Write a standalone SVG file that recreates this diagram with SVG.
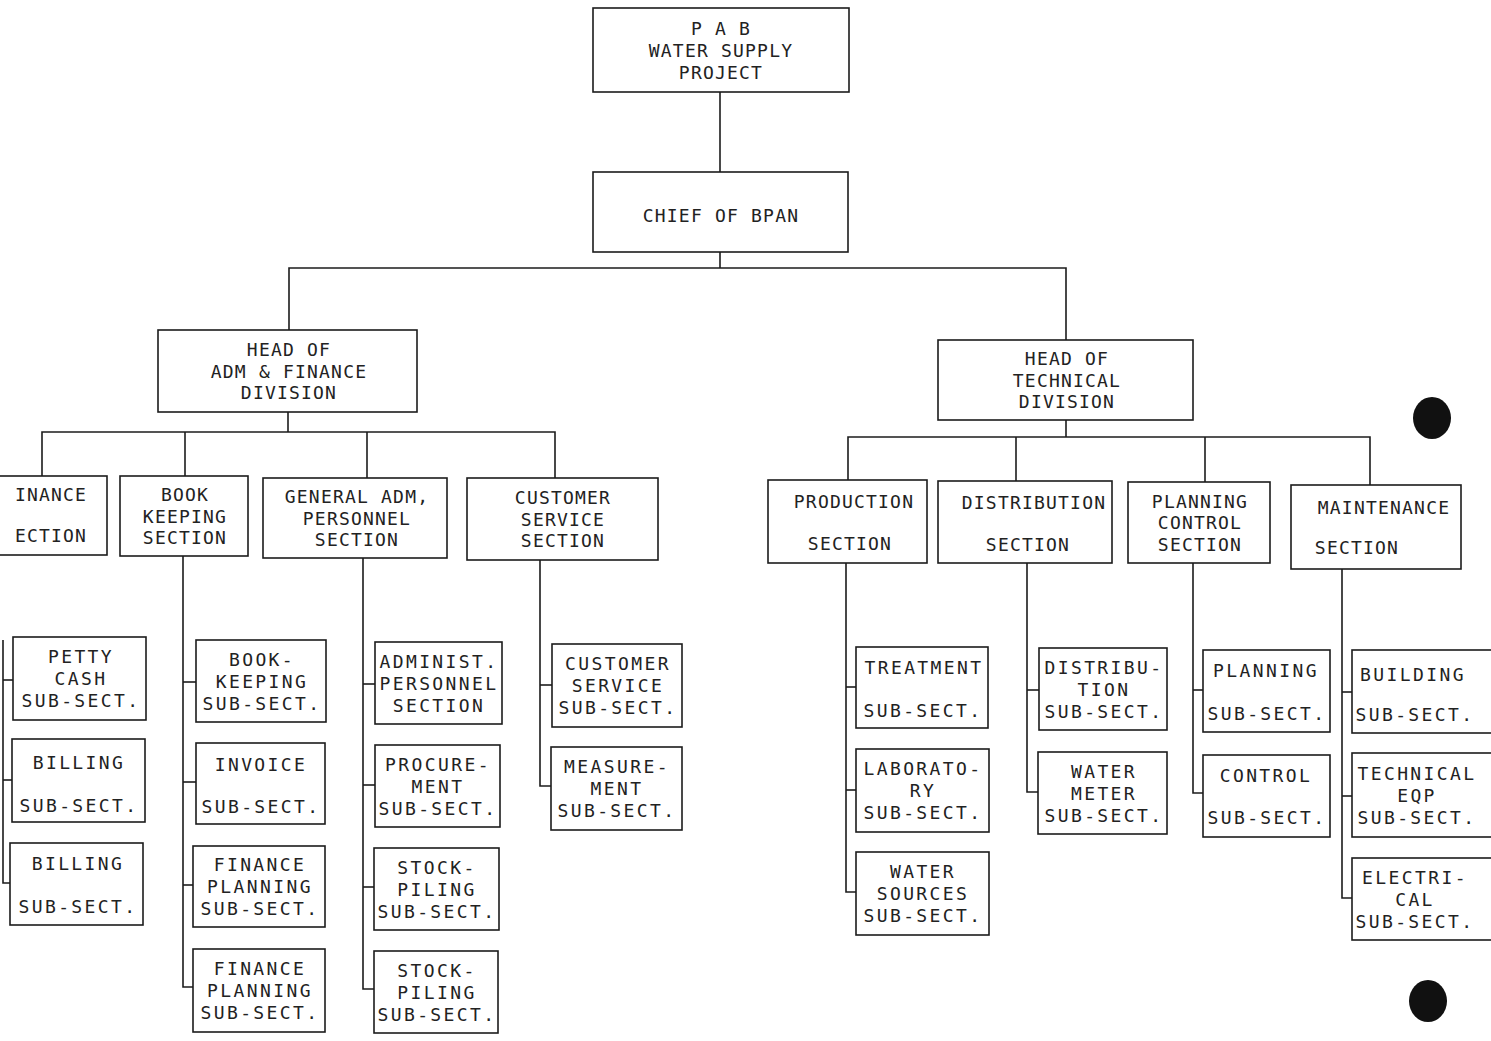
<svg xmlns="http://www.w3.org/2000/svg" width="1491" height="1041" viewBox="0 0 1491 1041">
<style>
.bg{fill:#ffffff}
.box{fill:#ffffff;stroke:#1c1c1c;stroke-width:1.6}
.ln{fill:none;stroke:#1c1c1c;stroke-width:1.6}
.t{font-family:"DejaVu Sans Mono","Liberation Mono",monospace;font-size:18px;letter-spacing:1.2px;text-anchor:middle;fill:#222}
.s{letter-spacing:2.4px}
.dot{fill:#111}
</style>
<rect class="bg" x="0" y="0" width="1491" height="1041"/>

<g id="connectors">
<line class="ln" x1="720" y1="92" x2="720" y2="172"/>
<line class="ln" x1="720" y1="252" x2="720" y2="268"/>
<polyline class="ln" points="289,330 289,268 1066,268 1066,340"/>
<line class="ln" x1="288" y1="412" x2="288" y2="432"/>
<polyline class="ln" points="42,476 42,432 555,432 555,478"/>
<line class="ln" x1="185" y1="432" x2="185" y2="476"/>
<line class="ln" x1="367" y1="432" x2="367" y2="478"/>
<line class="ln" x1="1066" y1="420" x2="1066" y2="437"/>
<polyline class="ln" points="848,480 848,437 1370,437 1370,485"/>
<line class="ln" x1="1016" y1="437" x2="1016" y2="481"/>
<line class="ln" x1="1205" y1="437" x2="1205" y2="482"/>
<polyline class="ln" points="3,640 3,883 12,883"/>
<line class="ln" x1="3" y1="680" x2="13" y2="680"/>
<line class="ln" x1="3" y1="780" x2="12" y2="780"/>
<polyline class="ln" points="183,556 183,987 193,987"/>
<line class="ln" x1="183" y1="682" x2="196" y2="682"/>
<line class="ln" x1="183" y1="782" x2="196" y2="782"/>
<line class="ln" x1="183" y1="885" x2="193" y2="885"/>
<polyline class="ln" points="363,558 363,989 374,989"/>
<line class="ln" x1="363" y1="684" x2="375" y2="684"/>
<line class="ln" x1="363" y1="785" x2="375" y2="785"/>
<line class="ln" x1="363" y1="887" x2="374" y2="887"/>
<polyline class="ln" points="540,560 540,786 551,786"/>
<line class="ln" x1="540" y1="685" x2="552" y2="685"/>
<polyline class="ln" points="846,563 846,892 856,892"/>
<line class="ln" x1="846" y1="687" x2="856" y2="687"/>
<line class="ln" x1="846" y1="790" x2="856" y2="790"/>
<polyline class="ln" points="1027,563 1027,792 1038,792"/>
<line class="ln" x1="1027" y1="690" x2="1039" y2="690"/>
<polyline class="ln" points="1193,563 1193,793 1203,793"/>
<line class="ln" x1="1193" y1="690" x2="1203" y2="690"/>
<polyline class="ln" points="1342,569 1342,898 1352,898"/>
<line class="ln" x1="1342" y1="692" x2="1352" y2="692"/>
<line class="ln" x1="1342" y1="796" x2="1352" y2="796"/>
</g>

<g id="pab">
<rect class="box" x="593" y="8" width="256" height="84"/>
<text class="t" x="721" y="34.5">P A B</text>
<text class="t" x="721" y="56.5">WATER SUPPLY</text>
<text class="t" x="721" y="78.5">PROJECT</text>
</g>
<g id="chief">
<rect class="box" x="593" y="172" width="255" height="80"/>
<text class="t" x="721" y="221.5">CHIEF OF BPAN</text>
</g>

<g id="head-adm">
<rect class="box" x="158" y="330" width="259" height="82"/>
<text class="t" x="289" y="356">HEAD OF</text>
<text class="t" x="289" y="377.5">ADM &amp; FINANCE</text>
<text class="t" x="289" y="399">DIVISION</text>
</g>
<g id="head-tech">
<rect class="box" x="938" y="340" width="255" height="80"/>
<text class="t" x="1067" y="365">HEAD OF</text>
<text class="t" x="1067" y="386.5">TECHNICAL</text>
<text class="t" x="1067" y="408">DIVISION</text>
</g>

<g id="finance-section">
<rect class="box" x="-20" y="476" width="127" height="79"/>
<text class="t" x="51" y="500.5">INANCE</text>
<text class="t" x="51" y="541.5">ECTION</text>
</g>
<g id="bookkeeping-section">
<rect class="box" x="120" y="476" width="128" height="80"/>
<text class="t" x="185" y="501">BOOK</text>
<text class="t" x="185" y="522.5">KEEPING</text>
<text class="t" x="185" y="544">SECTION</text>
</g>
<g id="general-section">
<rect class="box" x="263" y="478" width="184" height="80"/>
<text class="t" x="357" y="503">GENERAL ADM,</text>
<text class="t" x="357" y="524.5">PERSONNEL</text>
<text class="t" x="357" y="546">SECTION</text>
</g>
<g id="customer-section">
<rect class="box" x="467" y="478" width="191" height="82"/>
<text class="t" x="563" y="504">CUSTOMER</text>
<text class="t" x="563" y="525.5">SERVICE</text>
<text class="t" x="563" y="547">SECTION</text>
</g>

<g id="production-section">
<rect class="box" x="768" y="480" width="159" height="83"/>
<text class="t" x="854" y="507.5">PRODUCTION</text>
<text class="t" x="850" y="549.5">SECTION</text>
</g>
<g id="distribution-section">
<rect class="box" x="938" y="481" width="174" height="82"/>
<text class="t" x="1034" y="508.5">DISTRIBUTION</text>
<text class="t" x="1028" y="550.5">SECTION</text>
</g>
<g id="planning-section">
<rect class="box" x="1128" y="482" width="142" height="81"/>
<text class="t" x="1200" y="507.5">PLANNING</text>
<text class="t" x="1200" y="529">CONTROL</text>
<text class="t" x="1200" y="550.5">SECTION</text>
</g>
<g id="maintenance-section">
<rect class="box" x="1291" y="485" width="170" height="84"/>
<text class="t" x="1384" y="513.5">MAINTENANCE</text>
<text class="t" x="1357" y="553.5">SECTION</text>
</g>

<g id="petty-cash">
<rect class="box" x="13" y="637" width="133" height="83"/>
<text class="t s" x="81" y="663">PETTY</text>
<text class="t s" x="81" y="685">CASH</text>
<text class="t s" x="81" y="707">SUB-SECT.</text>
</g>
<g id="billing-1">
<rect class="box" x="12" y="739" width="133" height="83"/>
<text class="t s" x="79" y="768.5">BILLING</text>
<text class="t s" x="79" y="811.5">SUB-SECT.</text>
</g>
<g id="billing-2">
<rect class="box" x="10" y="843" width="133" height="82"/>
<text class="t s" x="78" y="869.5">BILLING</text>
<text class="t s" x="78" y="912.5">SUB-SECT.</text>
</g>

<g id="bookkeeping-sub">
<rect class="box" x="196" y="640" width="130" height="82"/>
<text class="t s" x="262" y="665.5">BOOK-</text>
<text class="t s" x="262" y="687.5">KEEPING</text>
<text class="t s" x="262" y="709.5">SUB-SECT.</text>
</g>
<g id="invoice-sub">
<rect class="box" x="196" y="743" width="129" height="81"/>
<text class="t s" x="261" y="770.5">INVOICE</text>
<text class="t s" x="261" y="812.5">SUB-SECT.</text>
</g>
<g id="finance-planning-1">
<rect class="box" x="193" y="846" width="132" height="81"/>
<text class="t s" x="260" y="871">FINANCE</text>
<text class="t s" x="260" y="893">PLANNING</text>
<text class="t s" x="260" y="915">SUB-SECT.</text>
</g>
<g id="finance-planning-2">
<rect class="box" x="193" y="949" width="132" height="83"/>
<text class="t s" x="260" y="975">FINANCE</text>
<text class="t s" x="260" y="997">PLANNING</text>
<text class="t s" x="260" y="1019">SUB-SECT.</text>
</g>

<g id="administ-personnel">
<rect class="box" x="375" y="642" width="127" height="82"/>
<text class="t s" x="439" y="667.5">ADMINIST.</text>
<text class="t s" x="439" y="689.5">PERSONNEL</text>
<text class="t s" x="439" y="711.5">SECTION</text>
</g>
<g id="procurement">
<rect class="box" x="375" y="745" width="125" height="82"/>
<text class="t s" x="438" y="770.5">PROCURE-</text>
<text class="t s" x="438" y="792.5">MENT</text>
<text class="t s" x="438" y="814.5">SUB-SECT.</text>
</g>
<g id="stockpiling-1">
<rect class="box" x="374" y="848" width="125" height="82"/>
<text class="t s" x="437" y="873.5">STOCK-</text>
<text class="t s" x="437" y="895.5">PILING</text>
<text class="t s" x="437" y="917.5">SUB-SECT.</text>
</g>
<g id="stockpiling-2">
<rect class="box" x="374" y="951" width="124" height="82"/>
<text class="t s" x="437" y="976.5">STOCK-</text>
<text class="t s" x="437" y="998.5">PILING</text>
<text class="t s" x="437" y="1020.5">SUB-SECT.</text>
</g>

<g id="customer-service-sub">
<rect class="box" x="552" y="644" width="130" height="83"/>
<text class="t s" x="618" y="670">CUSTOMER</text>
<text class="t s" x="618" y="692">SERVICE</text>
<text class="t s" x="618" y="714">SUB-SECT.</text>
</g>
<g id="measurement-sub">
<rect class="box" x="551" y="747" width="131" height="83"/>
<text class="t s" x="617" y="773">MEASURE-</text>
<text class="t s" x="617" y="795">MENT</text>
<text class="t s" x="617" y="817">SUB-SECT.</text>
</g>

<g id="treatment-sub">
<rect class="box" x="856" y="647" width="132" height="81"/>
<text class="t s" x="924" y="673.5">TREATMENT</text>
<text class="t s" x="923" y="716.5">SUB-SECT.</text>
</g>
<g id="laboratory-sub">
<rect class="box" x="856" y="749" width="133" height="83"/>
<text class="t s" x="923" y="775">LABORATO-</text>
<text class="t s" x="923" y="797">RY</text>
<text class="t s" x="923" y="819">SUB-SECT.</text>
</g>
<g id="water-sources-sub">
<rect class="box" x="856" y="852" width="133" height="83"/>
<text class="t s" x="923" y="878">WATER</text>
<text class="t s" x="923" y="900">SOURCES</text>
<text class="t s" x="923" y="922">SUB-SECT.</text>
</g>

<g id="distribution-sub">
<rect class="box" x="1039" y="648" width="128" height="82"/>
<text class="t s" x="1104" y="673.5">DISTRIBU-</text>
<text class="t s" x="1104" y="695.5">TION</text>
<text class="t s" x="1104" y="717.5">SUB-SECT.</text>
</g>
<g id="water-meter-sub">
<rect class="box" x="1038" y="752" width="129" height="82"/>
<text class="t s" x="1104" y="777.5">WATER</text>
<text class="t s" x="1104" y="799.5">METER</text>
<text class="t s" x="1104" y="821.5">SUB-SECT.</text>
</g>

<g id="planning-sub">
<rect class="box" x="1203" y="650" width="127" height="82"/>
<text class="t s" x="1266" y="676.5">PLANNING</text>
<text class="t s" x="1267" y="719.5">SUB-SECT.</text>
</g>
<g id="control-sub">
<rect class="box" x="1203" y="755" width="127" height="82"/>
<text class="t s" x="1266" y="781.5">CONTROL</text>
<text class="t s" x="1267" y="823.5">SUB-SECT.</text>
</g>

<g id="building-sub">
<rect class="box" x="1352" y="650" width="150" height="83"/>
<text class="t s" x="1413" y="680.5">BUILDING</text>
<text class="t s" x="1415" y="720.5">SUB-SECT.</text>
</g>
<g id="technical-eqp-sub">
<rect class="box" x="1352" y="753" width="150" height="84"/>
<text class="t s" x="1417" y="779.5">TECHNICAL</text>
<text class="t s" x="1417" y="801.5">EQP</text>
<text class="t s" x="1417" y="823.5">SUB-SECT.</text>
</g>
<g id="electrical-sub">
<rect class="box" x="1352" y="858" width="150" height="82"/>
<text class="t s" x="1415" y="883.5">ELECTRI-</text>
<text class="t s" x="1415" y="905.5">CAL</text>
<text class="t s" x="1415" y="927.5">SUB-SECT.</text>
</g>

<ellipse class="dot" cx="1432" cy="418" rx="19" ry="21"/>
<ellipse class="dot" cx="1428" cy="1001" rx="19" ry="21"/>
</svg>
